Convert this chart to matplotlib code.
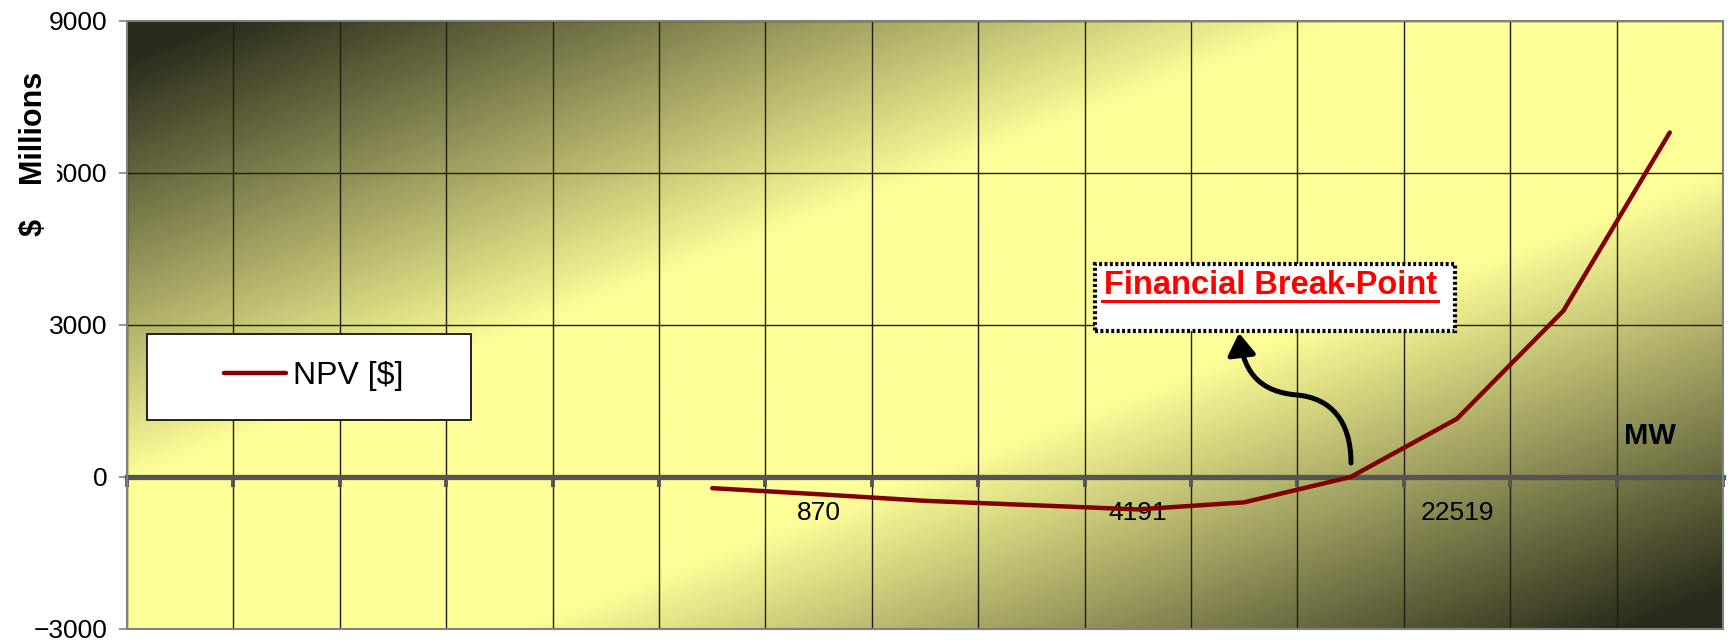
import numpy as np
import matplotlib
matplotlib.use('Agg')
import matplotlib.pyplot as plt
from matplotlib.patches import Rectangle, FancyArrowPatch
from matplotlib.path import Path
from matplotlib.ticker import FixedLocator

plt.rcParams['font.family'] = ['Liberation Sans', 'DejaVu Sans']

# category labels (MW), only every 3rd shown in the original
mw_labels = ['', '', '', '', '', '', '870', '', '', '4191', '', '', '22519', '', '']
# NPV in $ millions, first categories have no value
npv = [np.nan, np.nan, np.nan, np.nan, np.nan,
       -220, -340, -470, -555, -640, -500, 0, 1150, 3280, 6800]
y_ticks = [-3000, 0, 3000, 6000, 9000]

W, H = 1731, 642
fig = plt.figure(figsize=(W / 100, H / 100), dpi=100)
L, R, T, B = 127, 1723, 21, 629
ax = fig.add_axes([L / W, 1 - B / H, (R - L) / W, (B - T) / H])


def px(xp, yp):
    # pixel position of the reference -> axes fraction
    return (xp - L) / (R - L), (B - yp) / (B - T)


# diagonal gradient background: dark corners, yellow band
u = np.linspace(0, 1, 800)
v = np.linspace(0, 1, 300)
U, V = np.meshgrid(u, v)
t = (U + V) / 2
f = np.clip((np.minimum(t, 1 - t) - 0.03) / 0.35, 0, 1)
dark = np.array([0x2a, 0x2b, 0x1b]) / 255
light = np.array([0xff, 0xff, 0x99]) / 255
img = dark + f[..., None] * (light - dark)
ax.imshow(img, extent=[0, 1, 0, 1], transform=ax.transAxes, aspect='auto',
          zorder=0, interpolation='bilinear')

x = np.arange(len(npv))
ax.plot(x, npv, color='#800000', lw=3.2, solid_capstyle='round',
        solid_joinstyle='round', zorder=4, label='NPV [$]')

ax.set_xlim(-0.5, len(npv) - 0.5)
ax.set_ylim(-3000, 9000)
ax.set_yticks(y_ticks)
ax.set_xticks(x)
ax.set_xticklabels(mw_labels)
ax.xaxis.set_minor_locator(FixedLocator(np.arange(-0.5, len(npv), 1)))
ax.set_axisbelow(True)
ax.grid(which='minor', axis='x', color='#1e1e14', lw=1)
ax.grid(which='major', axis='y', color='#1e1e14', lw=1)
ax.grid(which='major', axis='x', visible=False)

for s in ['top', 'right', 'left']:
    ax.spines[s].set_visible(False)
ax.spines['bottom'].set_position(('data', 0))
ax.spines['bottom'].set_color('#555555')
ax.spines['bottom'].set_linewidth(3.8)
ax.spines['bottom'].set_zorder(3)
ax.tick_params(axis='x', which='minor', direction='out', length=7, width=2.8, color='#555555')
ax.tick_params(axis='x', which='major', length=0, pad=17, labelsize=19)
ax.tick_params(axis='y', length=6, width=1.2, color='#808080', pad=8, labelsize=19)

ax.add_patch(Rectangle((0, 0), 1, 1, transform=ax.transAxes, fill=False,
                       ec='#808080', lw=1.5, clip_on=False, zorder=6))

# y label with white box (hides part of the 6000 label like the original)
fig.text(34 / W, 1 - 154 / H, '$    Millions', rotation=90, ha='center', va='center',
         fontsize=22, fontweight='bold', bbox=dict(fc='white', ec='none', pad=6))

ax.text(*px(1650, 436), 'MW', transform=ax.transAxes, ha='center', va='center',
        fontsize=21, fontweight='bold')

# legend box
x0, y0 = px(147, 420)
x1, y1 = px(471, 334)
ax.add_patch(Rectangle((x0, y0), x1 - x0, y1 - y0, transform=ax.transAxes,
                       fc='white', ec='black', lw=1.2, zorder=5))
ax.legend(loc='center left', bbox_to_anchor=px(224, 376), frameon=False, fontsize=23,
          handlelength=1.94, handletextpad=0.22, borderpad=0, borderaxespad=0)

# "Financial Break-Point" callout
bx0, by0 = px(1095, 331)
bx1, by1 = px(1455, 264)
ax.add_patch(Rectangle((bx0, by0), bx1 - bx0, by1 - by0, transform=ax.transAxes,
                       fc='white', ec='black', lw=3.0, ls=(0, (0.7, 0.6)), zorder=5))
ax.text(*px(1104, 294), 'Financial Break-Point', transform=ax.transAxes, ha='left',
        va='baseline', fontsize=23.5, fontweight='bold', color='#ff0000', zorder=6)
ux0, uy = px(1102, 301)
ux1, _ = px(1438, 301)
ax.plot([ux0, ux1], [uy, uy], transform=ax.transAxes, color='#ff0000', lw=2.2, zorder=6)

pts = [(1351, 463), (1351, 420), (1330, 398), (1297, 395),
       (1262, 392), (1244, 375), (1239, 333)]
verts = [px(a, b) for a, b in pts]
codes = [Path.MOVETO] + [Path.CURVE4] * 6
arrow = FancyArrowPatch(path=Path(verts, codes), transform=ax.transAxes,
                        arrowstyle='-|>,head_length=0.65,head_width=0.42',
                        mutation_scale=20, lw=3.6, color='black',
                        shrinkA=0, shrinkB=0, zorder=6)
ax.add_patch(arrow)

fig.savefig('out.png', dpi=100)
